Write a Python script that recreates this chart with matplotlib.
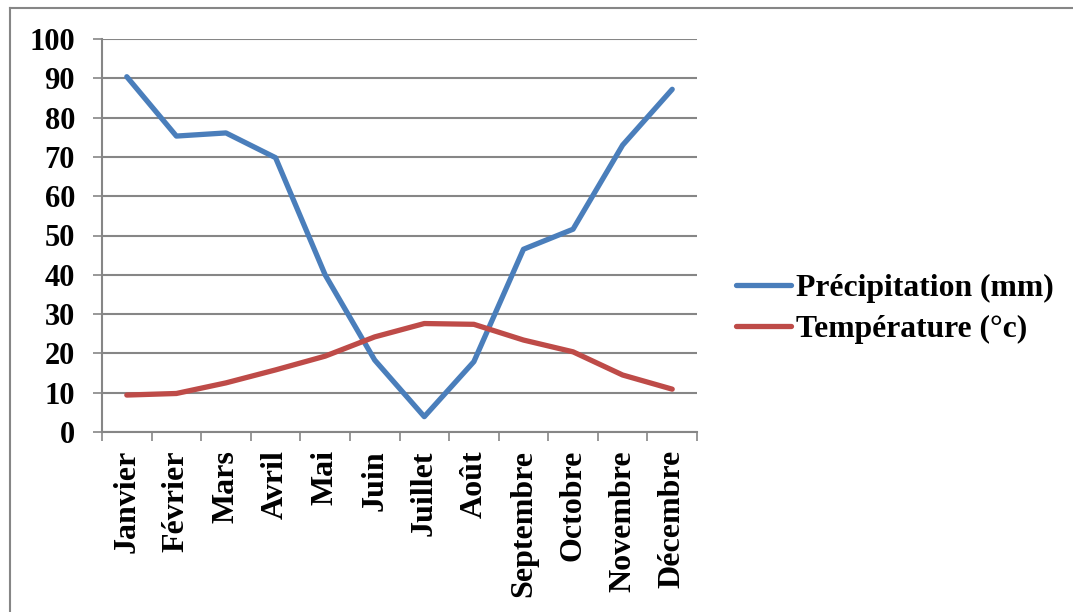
#!/usr/bin/env python3
"""Climate chart: monthly precipitation (mm) and temperature (°c)."""

import matplotlib
matplotlib.use("Agg")
import matplotlib.pyplot as plt
from matplotlib.lines import Line2D

# -------- DATA ----------
months = ["Janvier", "Février", "Mars", "Avril", "Mai", "Juin", "Juillet",
          "Août", "Septembre", "Octobre", "Novembre", "Décembre"]
precipitation = [90.4, 75.3, 76.1, 69.8, 40.0, 18.3, 3.9, 17.9, 46.5, 51.6, 73.0, 87.2]
temperature = [9.4, 9.8, 12.5, 15.8, 19.3, 24.2, 27.6, 27.4, 23.4, 20.4, 14.5, 10.9]
y_ticks = list(range(0, 101, 10))
# ------------------------

W, H, DPI = 1073, 612, 100
GRID = "#868686"
BLUE = "#4A7EBB"
RED = "#BE4B48"
FS_Y = 22
FS_X = 23
FS_LEG = 22.8

plt.rcParams["font.family"] = ["Liberation Serif", "DejaVu Serif"]
plt.rcParams["font.weight"] = "bold"

fig = plt.figure(figsize=(W / DPI, H / DPI), dpi=DPI)
ax = fig.add_axes([102 / W, 1 - 432 / H, (697 - 102) / W, (432 - 39) / H])

x = list(range(len(months)))
ax.plot(x, precipitation, color=BLUE, lw=3.8, solid_capstyle="round",
        solid_joinstyle="round", label="Précipitation (mm)", zorder=3)
ax.plot(x, temperature, color=RED, lw=3.8, solid_capstyle="round",
        solid_joinstyle="round", label="Température (°c)", zorder=3)

ax.set_xlim(-0.5, len(months) - 0.5)
ax.set_ylim(0, 100)
ax.set_yticks(y_ticks)
ax.set_yticklabels([str(v) for v in y_ticks], fontsize=FS_Y, fontweight="bold")
ax.tick_params(axis="y", length=6.5, width=1.2, color=GRID, pad=13)

# category labels at centres, tick marks at boundaries
ax.set_xticks(x)
ax.set_xticklabels(months, rotation=90, fontsize=FS_X, fontweight="bold")
ax.tick_params(axis="x", which="major", length=0, pad=13)
ax.set_xticks([i - 0.5 for i in range(len(months) + 1)], minor=True)
ax.tick_params(axis="x", which="minor", length=6.5, width=1.2, color=GRID)

ax.grid(axis="y", color=GRID, lw=1.5, zorder=1)
ax.set_axisbelow(True)
for side in ("top", "right"):
    ax.spines[side].set_visible(False)
for side in ("left", "bottom"):
    ax.spines[side].set_color(GRID)
    ax.spines[side].set_linewidth(1.5)

ax.legend(loc="center left", bbox_to_anchor=(736 / W, 1 - 309 / H),
          bbox_transform=fig.transFigure, frameon=False,
          prop={"weight": "bold", "size": FS_LEG}, handlelength=1.75,
          handletextpad=0.15, labelspacing=0.4, borderpad=0, borderaxespad=0)

# outer frame (left and top edges visible)
fig.add_artist(Line2D([9.5 / W, 9.5 / W], [0, 1 - 7.5 / H], color=GRID, lw=1.5,
                      transform=fig.transFigure))
fig.add_artist(Line2D([9.5 / W, 1], [1 - 7.5 / H, 1 - 7.5 / H], color=GRID, lw=1.5,
                      transform=fig.transFigure))

fig.savefig("out.png", dpi=DPI)
